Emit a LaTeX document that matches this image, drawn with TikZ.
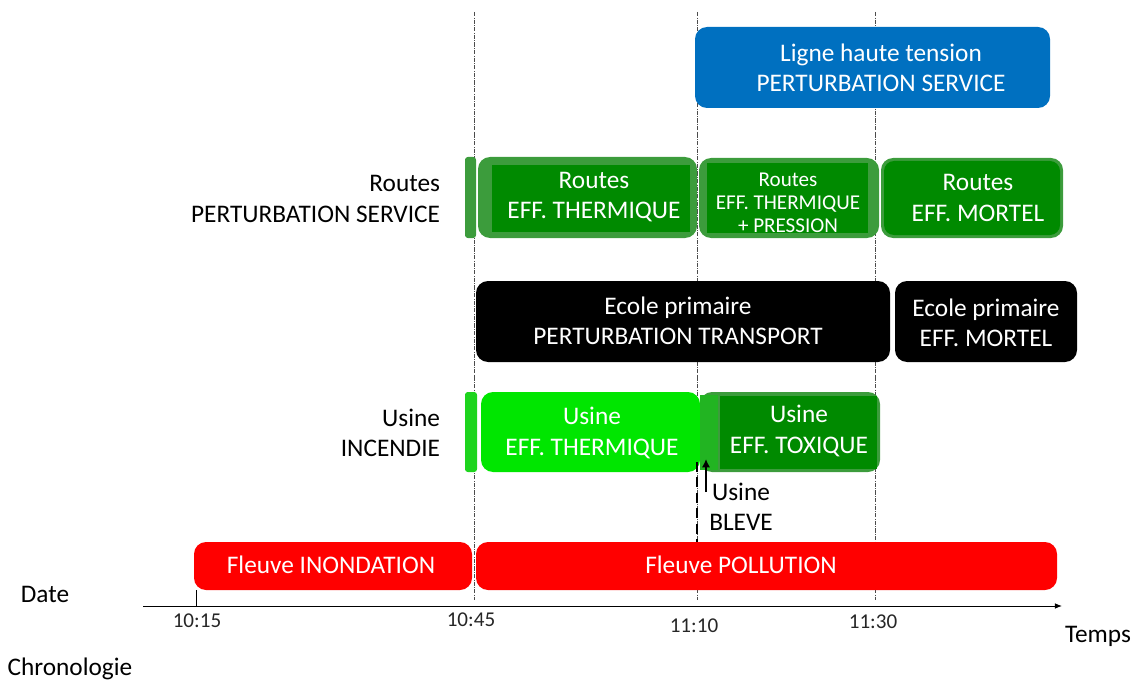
\documentclass[tikz,border=0pt]{standalone}
\usepackage{fontspec}
\setmainfont{Carlito}
\usetikzlibrary{arrows.meta}
\definecolor{bleuligne}{HTML}{0070C0}
\definecolor{vertroute}{HTML}{008A00}
\definecolor{vertbord}{HTML}{3C9C3C}
\definecolor{vertvif}{HTML}{00E600}
\definecolor{vertstub}{HTML}{1ED41E}
\definecolor{vertmix}{HTML}{22B422}
\definecolor{rouge}{HTML}{FF0000}
\tikzset{
  txtb/.style={text=white,align=center,font=\fontsize{18}{21.5}\selectfont},
  txtp/.style={text=white,align=center,font=\fontsize{15}{16.5}\selectfont},
  txtn/.style={text=black,align=right,font=\fontsize{18}{21.5}\selectfont},
  heure/.style={text=black!85,font=\fontsize{15}{16}\selectfont},
  repere/.style={densely dash dot,gray!60!black,line width=0.4pt},
}
\begin{document}
\begin{tikzpicture}[x=0.025cm,y=-0.025cm]
        % echelle : 1 px = 0.025 cm
        \useasboundingbox (0,0) rectangle (1144,689);
        \foreach \x in {474,697,875}{
            \draw[repere] (\x,12) -- (\x,600);
        }
        % ligne haute tension
        \fill[bleuligne,rounded corners=0.3cm] (695,27) rectangle (1050,108);
        \node[txtb] (ligne) at (881,68) {Ligne haute tension\\PERTURBATION SERVICE};
        % routes
        \node[txtn,anchor=east] (routes) at (445,199) {Routes\\PERTURBATION SERVICE};
        \fill[vertbord,rounded corners=2pt] (465,157) rectangle (476,238);
        \fill[vertbord,rounded corners=0.3cm] (478,157) rectangle (697,238);
        \fill[vertroute] (492,165) rectangle (690,232);
        \node[txtb] (routes1) at (594,197) {Routes\\EFF. THERMIQUE};
        \fill[vertbord,rounded corners=0.3cm] (699,158) rectangle (879,238);
        \fill[vertroute] (707,163) rectangle (868,233);
        \node[txtp] (routes2) at (788,203) {Routes\\EFF. THERMIQUE\\+ PRESSION};
        \fill[vertbord,rounded corners=0.3cm] (881,158) rectangle (1063,238);
        \fill[vertroute,rounded corners=0.25cm] (884,161) rectangle (1060,235);
        \node[txtb] (routes3) at (978,198) {Routes\\EFF. MORTEL};
        % ecole
        \fill[black,rounded corners=0.3cm] (476,281) rectangle (890,362);
        \node[txtb] (ecole1) at (678,321) {Ecole primaire\\PERTURBATION TRANSPORT};
        \fill[black,rounded corners=0.3cm] (895,281) rectangle (1077,362);
        \node[txtb] (ecole2) at (986,323) {Ecole primaire\\EFF. MORTEL};
        % usine
        \node[txtn,anchor=east] (usine) at (445,433) {Usine\\INCENDIE};
        \fill[vertstub,rounded corners=2pt] (465,392) rectangle (477,472);
        \fill[vertvif,rounded corners=0.3cm] (481,392) rectangle (700,472);
        \node[txtb] (usine1) at (592,433) {Usine\\EFF. THERMIQUE};
        \fill[vertbord,rounded corners=0.3cm] (700,392) rectangle (880,472);
        \fill[vertmix] (700,395) rectangle (718,470);
        \fill[vertroute] (720,396) rectangle (877,469);
        \node[txtb] (usine2) at (799,431) {Usine\\EFF. TOXIQUE};
        % bleve
        \draw[black,line width=2pt,dash pattern=on 7pt off 4pt] (697,462) -- (697,545);
        \node[text=black,align=center,font=\fontsize{18}{21}\selectfont] (bleve) at (741,507) {Usine\\BLEVE};
        \coordinate (bleve0) at (706,492);
        \coordinate (bleve1) at (706,459);
        \draw[line width=1.8pt,-{Latex[length=6pt,width=6pt]}] (bleve0) -- (bleve1);
        % fleuve
        \fill[rouge,rounded corners=0.3cm] (194,542) rectangle (472,590);
        \node[txtb] (fleuve1) at (331,565) {Fleuve INONDATION};
        \fill[rouge,rounded corners=0.3cm] (476,542) rectangle (1057,590);
        \node[txtb] (fleuve2) at (741,565) {Fleuve POLLUTION};
        % axe du temps
        \coordinate (t0) at (143,606);
        \coordinate (t1) at (1062,606);
        \draw[line width=0.7pt,-{Latex[length=5pt,width=4pt]}] (t0) -- (t1);
        \draw[line width=0.5pt] (196,590) -- (196,606);
        \foreach \x/\y/\h in {197/621/10:15,471/620/10:45,694/626/11:10,873/622/11:30}{
            \node[heure] (h\x) at (\x,\y) {\h};
        }
        \node[font=\fontsize{18}{20}\selectfont] (temps) at (1098,636) {Temps};
        \node[font=\fontsize{18}{20}\selectfont] (date) at (45,594) {Date};
        \node[font=\fontsize{18}{20}\selectfont] (chrono) at (70,669) {Chronologie};
    \end{tikzpicture}
\end{document}
